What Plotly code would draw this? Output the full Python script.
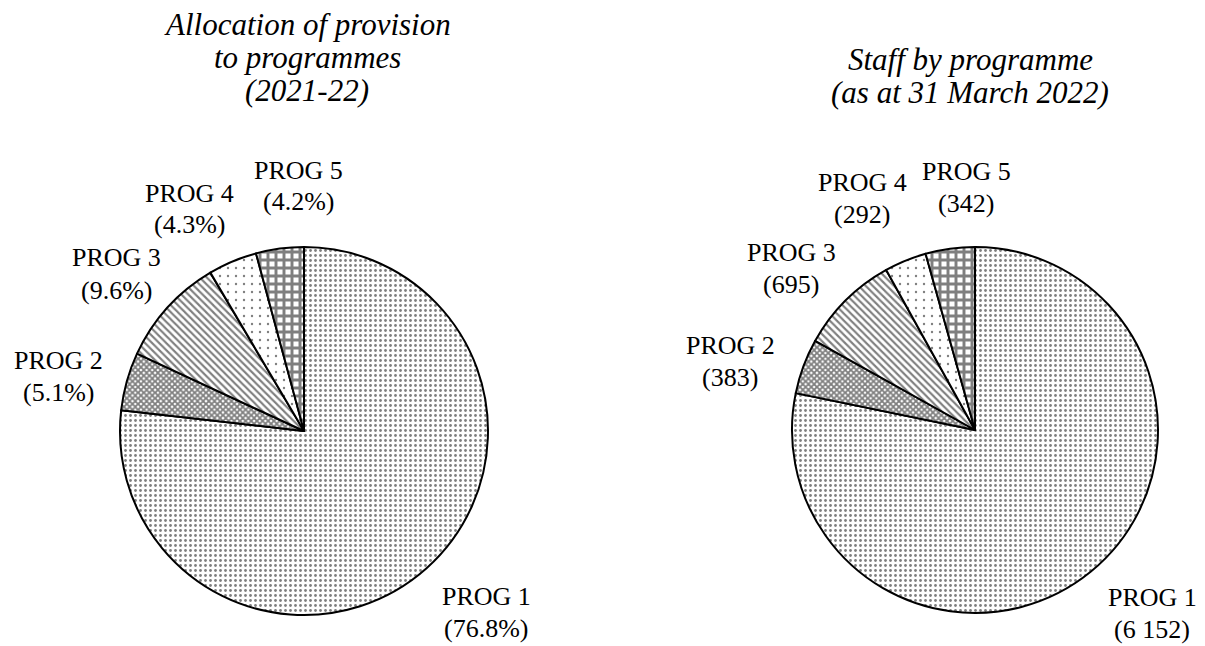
import plotly.graph_objects as go

# ---- data ----
programmes = ["PROG 1", "PROG 2", "PROG 3", "PROG 4", "PROG 5"]
provision_pct = [76.8, 5.1, 9.6, 4.3, 4.2]
staff_counts = [6152, 383, 695, 292, 342]

title_left = ["Allocation of provision", "to programmes", "(2021-22)"]
title_right = ["Staff by programme", "(as at 31 March 2022)"]

# ---- layout helpers (page has an 8px body margin) ----
WIN_W, WIN_H = 1205, 646
OFF = 8
FW, FH = WIN_W - OFF, WIN_H - OFF
FONT = "Liberation Serif, Times New Roman, serif"
shapes = [".", "x", "\\", ".", "+"]
sizes = [5, 4, 5, 8, 8]
solidity = [0.24, 0.7, 0.42, 0.07, 0.6]


def fx(px):
    return (px - OFF) / FW


def fy(py):
    return 1 - (py - OFF) / FH


def px_domain(cx, cy, r):
    return dict(x=[fx(cx - r), fx(cx + r)], y=[fy(cy + r), fy(cy - r)])


def pie(values, dom):
    return go.Pie(
        labels=programmes, values=values, sort=False, direction="clockwise",
        rotation=0, textinfo="none", hoverinfo="label+value", showlegend=False,
        domain=dom,
        marker=dict(colors=["white"] * 5,
                    line=dict(color="black", width=2),
                    pattern=dict(shape=shapes, size=sizes, solidity=solidity,
                                 fgcolor="black", bgcolor="white",
                                 fillmode="overlay")),
    )


fig = go.Figure()
fig.add_trace(pie(provision_pct, px_domain(304, 431, 184)))
fig.add_trace(pie(staff_counts, px_domain(975, 430, 183)))

annotations = []


def add_text(txt, x, y, size, italic=False):
    if italic:
        txt = f"<i>{txt}</i>"
    annotations.append(dict(text=txt, x=fx(x), y=fy(y), xref="paper", yref="paper",
                            showarrow=False, xanchor="center", yanchor="middle",
                            font=dict(family=FONT, size=size, color="black")))


def fmt_int(v):
    return f"{v:,}".replace(",", " ")


# (x, y of first line) for each label; second line 32px below
left_pos = [(486, 596), (58, 360), (116, 258), (189, 193), (298, 170)]
right_pos = [(1152, 597), (730, 345), (791, 252), (862, 183), (966, 171)]

for name, v, (x, y) in zip(programmes, provision_pct, left_pos):
    add_text(name, x, y, 26)
    add_text(f"({v}%)", x, y + 32, 26)
for name, v, (x, y) in zip(programmes, staff_counts, right_pos):
    add_text(name, x, y, 26)
    add_text(f"({fmt_int(v)})", x, y + 32, 26)

for i, line in enumerate(title_left):
    add_text(line, 307, 25 + 32.5 * i, 31, italic=True)
for i, line in enumerate(title_right):
    add_text(line, 970, 60 + 32.5 * i, 31, italic=True)

fig.update_layout(width=FW, height=FH, autosize=False,
                  margin=dict(l=0, r=0, t=0, b=0),
                  paper_bgcolor="white", plot_bgcolor="white",
                  annotations=annotations)

fig.write_html("out.html")
